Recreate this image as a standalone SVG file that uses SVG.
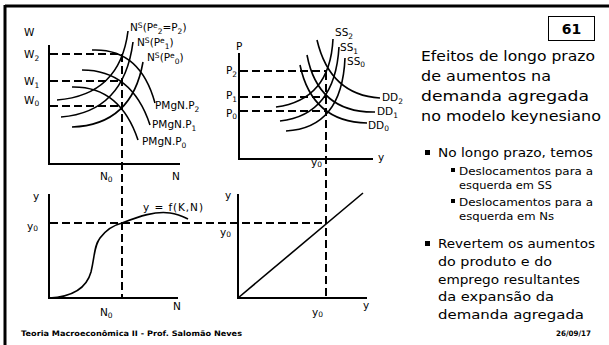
<svg xmlns="http://www.w3.org/2000/svg" width="609" height="345" viewBox="0 0 609 345">
<style>
text{font-family:"DejaVu Sans","Liberation Sans",sans-serif;fill:#000}
.lbl{font-size:10.5px}
.sub{font-size:7.5px}
.ttl{font-size:14.5px}
.b1{font-size:13px}
.b2{font-size:11px}
.foot{font-size:7.5px;font-weight:bold}
.ax{fill:none;stroke:#000;stroke-width:2}
.cv{fill:none;stroke:#000;stroke-width:1.6}
.ds{fill:none;stroke:#000;stroke-width:2;stroke-dasharray:8,4}
</style>
<rect width="609" height="345" fill="#fff"/>
<g id="frame">
<line x1="5" y1="6" x2="609" y2="6" stroke="#000" stroke-width="3"/>
<line x1="5" y1="5" x2="5" y2="345" stroke="#000" stroke-width="3"/>
</g>
<g id="pagenum">
<rect x="548.5" y="16.5" width="46" height="24" fill="#fff" stroke="#000" stroke-width="1"/>
<text x="571.5" y="34" text-anchor="middle" style="font-size:14px;font-weight:bold">61</text>
</g>
<g id="connectors">
<line class="ds" x1="50" y1="54" x2="123" y2="54"/>
<line class="ds" x1="50" y1="81" x2="123" y2="81"/>
<line class="ds" x1="50" y1="106" x2="123" y2="106"/>
<line class="ds" x1="122" y1="54" x2="122" y2="298"/>
<line class="ds" x1="240" y1="71" x2="326" y2="71"/>
<line class="ds" x1="240" y1="97" x2="326" y2="97"/>
<line class="ds" x1="240" y1="111" x2="326" y2="111"/>
<line class="ds" x1="326" y1="72" x2="326" y2="298"/>
<line class="ds" x1="50" y1="223" x2="326" y2="223"/>
</g>
<g id="labor-market">
<polyline class="ax" points="49,45 49,164 180,164"/>
<path class="cv" d="M57,100 Q120,95 128,31"/>
<path class="cv" d="M61,117 Q124,112 133,42"/>
<path class="cv" d="M72,127 Q132,125 143,62"/>
<path class="cv" d="M92,50 Q140,48 155,103"/>
<path class="cv" d="M82,70 Q132,70 150,125"/>
<path class="cv" d="M72,87 Q120,86 138,140"/>
<text class="lbl" x="24" y="36">W</text>
<text class="lbl" x="24" y="58">W<tspan class="sub" dy="3">2</tspan></text>
<text class="lbl" x="24" y="85">W<tspan class="sub" dy="3">1</tspan></text>
<text class="lbl" x="24" y="104">W<tspan class="sub" dy="2">0</tspan></text>
<text class="lbl" x="130" y="31">N<tspan class="sub" dy="-3.5">S</tspan><tspan dy="3.5">(P</tspan><tspan class="sub" dy="-3.5">e</tspan><tspan class="sub" dy="6">2</tspan><tspan dy="-2.5">=P</tspan><tspan class="sub" dy="2.5">2</tspan><tspan dy="-2.5">)</tspan></text>
<text class="lbl" x="137" y="46">N<tspan class="sub" dy="-3.5">S</tspan><tspan dy="3.5">(P</tspan><tspan class="sub" dy="-3.5">e</tspan><tspan class="sub" dy="6">1</tspan><tspan dy="-2.5">)</tspan></text>
<text class="lbl" x="147" y="61">N<tspan class="sub" dy="-3.5">S</tspan><tspan dy="3.5">(P</tspan><tspan class="sub" dy="-3.5">e</tspan><tspan class="sub" dy="6">0</tspan><tspan dy="-2.5">)</tspan></text>
<text class="lbl" x="155" y="109">PMgN.P<tspan class="sub" dy="3">2</tspan></text>
<text class="lbl" x="152" y="128">PMgN.P<tspan class="sub" dy="3">1</tspan></text>
<text class="lbl" x="142" y="145">PMgN.P<tspan class="sub" dy="3">0</tspan></text>
<text class="lbl" x="100" y="180">N<tspan class="sub" dy="2">0</tspan></text>
<text class="lbl" x="172" y="180">N</text>
</g>
<g id="goods-market">
<polyline class="ax" points="239,53 239,159 373,159"/>
<path class="cv" d="M276,107 Q330,100 333,39"/>
<path class="cv" d="M280,121 Q335,115 339,47"/>
<path class="cv" d="M286,131 Q342,128 345,58"/>
<path class="cv" d="M317,40 Q330,95 380,98"/>
<path class="cv" d="M307,55 Q318,113 375,112"/>
<path class="cv" d="M300,65 Q312,122 367,123"/>
<text class="lbl" x="236" y="50">P</text>
<text class="lbl" x="226" y="74">P<tspan class="sub" dy="3">2</tspan></text>
<text class="lbl" x="226" y="99">P<tspan class="sub" dy="3">1</tspan></text>
<text class="lbl" x="226" y="117">P<tspan class="sub" dy="2">0</tspan></text>
<text class="lbl" x="335" y="36">SS<tspan class="sub" dy="3">2</tspan></text>
<text class="lbl" x="340" y="51">SS<tspan class="sub" dy="3">1</tspan></text>
<text class="lbl" x="347" y="65">SS<tspan class="sub" dy="2">0</tspan></text>
<text class="lbl" x="382" y="101">DD<tspan class="sub" dy="3">2</tspan></text>
<text class="lbl" x="377" y="115">DD<tspan class="sub" dy="3">1</tspan></text>
<text class="lbl" x="368" y="129">DD<tspan class="sub" dy="2">0</tspan></text>
<text class="lbl" x="378" y="161">y</text>
<text class="lbl" x="311" y="166">y<tspan class="sub" dy="1">0</tspan></text>
</g>
<g id="production">
<polyline class="ax" points="49,194 49,298 178,298"/>
<path class="cv" d="M49,298 C70,297 86,290 91,272 C95,255 94,246 100,238 C106,230 114,225 122,223 C140,216 155,211 170,213 C178,214 184,217 188,219"/>
<text class="lbl" x="33" y="200">y</text>
<text class="lbl" x="27" y="230">y<tspan class="sub" dy="1">0</tspan></text>
<text class="lbl" x="143" y="211" textLength="60">y = f(K,N)</text>
<text class="lbl" x="100" y="316">N<tspan class="sub" dy="2">0</tspan></text>
<text class="lbl" x="173" y="310">N</text>
</g>
<g id="output-45">
<polyline class="ax" points="238,194 238,298 367,298"/>
<line class="cv" x1="238" y1="298" x2="363" y2="193"/>
<text class="lbl" x="225" y="199">y</text>
<text class="lbl" x="220" y="236">y<tspan class="sub" dy="1">0</tspan></text>
<text class="lbl" x="312" y="316">y<tspan class="sub" dy="1">0</tspan></text>
<text class="lbl" x="363" y="309">y</text>
</g>
<g id="text-panel">
<text class="ttl" x="421" y="61" textLength="174" lengthAdjust="spacingAndGlyphs">Efeitos de longo prazo</text>
<text class="ttl" x="421" y="81" textLength="130" lengthAdjust="spacingAndGlyphs">de aumentos na</text>
<text class="ttl" x="421" y="101" textLength="168" lengthAdjust="spacingAndGlyphs">demanda agregada</text>
<text class="ttl" x="421" y="121" textLength="180" lengthAdjust="spacingAndGlyphs">no modelo keynesiano</text>
<rect x="425" y="150" width="5" height="5"/>
<text class="b1" x="438" y="157" textLength="155" lengthAdjust="spacingAndGlyphs">No longo prazo, temos</text>
<rect x="451" y="168" width="4" height="4"/>
<text class="b2" x="459" y="175" textLength="134" lengthAdjust="spacingAndGlyphs">Deslocamentos para a</text>
<text class="b2" x="459" y="189" textLength="93" lengthAdjust="spacingAndGlyphs">esquerda em SS</text>
<rect x="451" y="199" width="4" height="4"/>
<text class="b2" x="459" y="206" textLength="134" lengthAdjust="spacingAndGlyphs">Deslocamentos para a</text>
<text class="b2" x="459" y="220" textLength="95" lengthAdjust="spacingAndGlyphs">esquerda em Ns</text>
<rect x="425" y="241" width="5" height="5"/>
<text class="b1" x="438" y="248" textLength="157" lengthAdjust="spacingAndGlyphs">Revertem os aumentos</text>
<text class="b1" x="438" y="266" textLength="114" lengthAdjust="spacingAndGlyphs">do produto e do</text>
<text class="b1" x="438" y="284" textLength="142" lengthAdjust="spacingAndGlyphs">emprego resultantes</text>
<text class="b1" x="438" y="301" textLength="116" lengthAdjust="spacingAndGlyphs">da expansão da</text>
<text class="b1" x="438" y="319" textLength="146" lengthAdjust="spacingAndGlyphs">demanda agregada</text>
</g>
<g id="footer">
<text class="foot" x="21" y="336" textLength="221" lengthAdjust="spacingAndGlyphs">Teoria Macroeconômica II - Prof. Salomão Neves</text>
<text class="foot" x="556" y="336" textLength="35" lengthAdjust="spacingAndGlyphs">26/09/17</text>
</g>
</svg>
